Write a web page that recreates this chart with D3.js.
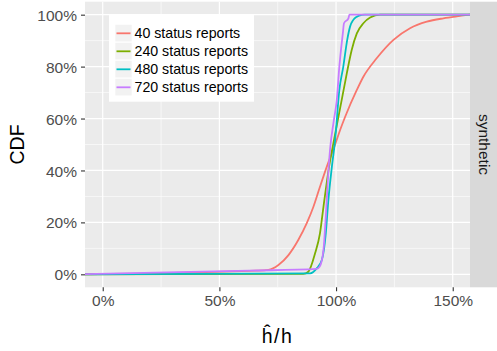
<!DOCTYPE html>
<html>
<head>
<meta charset="utf-8">
<script src="https://cdn.jsdelivr.net/npm/d3@7"></script>
<style>
  body { margin: 0; background: #fff; }
  text { font-family: "Liberation Sans", Arial, sans-serif; }
</style>
</head>
<body>
<div id="chart"></div>
<script>
// legend labels, one per series
const seriesLabels = ["40 status reports", "240 status reports", "480 status reports", "720 status reports"];
const seriesColors = ["#F8766D", "#7CAE00", "#00BFC4", "#C77CFF"];

// h-hat / h ratio vs CDF
const ratio40 = [-0.1, 0.66, 0.710, 0.753, 0.796, 0.838, 0.874, 0.903, 0.931, 0.960, 0.996, 1.017, 1.039, 1.089, 1.117, 1.174, 1.246, 1.317, 1.389, 1.460, 1.532, 1.574, 1.6];
const cdf40   = [0.0, 0.014, 0.017, 0.036, 0.074, 0.132, 0.196, 0.260, 0.337, 0.414, 0.500, 0.555, 0.607, 0.710, 0.761, 0.832, 0.903, 0.948, 0.973, 0.986, 0.995, 1.0, 1.0];

const ratio240 = [-0.1, 0.860, 0.881, 0.910, 0.931, 0.946, 0.970, 0.991, 1.024, 1.046, 1.067, 1.089, 1.117, 1.146, 1.189, 1.6];
const cdf240   = [0.0, 0.002, 0.010, 0.081, 0.158, 0.260, 0.414, 0.517, 0.671, 0.774, 0.864, 0.928, 0.967, 0.989, 1.0, 1.0];

const ratio480 = [-0.1, 0.889, 0.917, 0.939, 0.956, 0.967, 0.982, 0.996, 1.014, 1.031, 1.048, 1.060, 1.074, 1.089, 1.110, 1.124, 1.6];
const cdf480   = [0.0, 0.004, 0.023, 0.055, 0.158, 0.286, 0.414, 0.517, 0.710, 0.800, 0.904, 0.954, 0.980, 0.992, 0.999, 1.0, 1.0];

const ratio720 = [-0.1, 0.63, 0.917, 0.930, 0.946, 0.956, 0.964, 0.974, 0.990, 1.003, 1.014, 1.029, 1.034, 1.053, 1.057, 1.6];
const cdf720   = [0.0, 0.014, 0.021, 0.030, 0.094, 0.222, 0.350, 0.479, 0.590, 0.671, 0.800, 0.928, 0.967, 0.986, 1.0, 1.0];

const xTicks = [0, 0.5, 1, 1.5];
const xMinor = [0.25, 0.75, 1.25];
const yTicks = [0, 0.2, 0.4, 0.6, 0.8, 1];
const yMinor = [0.1, 0.3, 0.5, 0.7, 0.9];
const stripLabel = "synthetic";

const width = 497, height = 351;
const panel = {left: 85, right: 470, top: 1.7, bottom: 287.3};

const svg = d3.select("#chart").append("svg")
  .attr("width", width)
  .attr("height", height);

const x = d3.scaleLinear().domain([-0.076, 1.574]).range([panel.left, panel.right]);
const y = d3.scaleLinear().domain([-0.05, 1.05]).range([panel.bottom, panel.top]);

// panel background
svg.append("rect")
  .attr("x", panel.left).attr("y", panel.top)
  .attr("width", panel.right - panel.left)
  .attr("height", panel.bottom - panel.top)
  .attr("fill", "#EBEBEB");

// grid
const grid = svg.append("g");
grid.selectAll(".ymin").data(yMinor).enter().append("line")
  .attr("x1", panel.left).attr("x2", panel.right)
  .attr("y1", d => y(d)).attr("y2", d => y(d))
  .attr("stroke", "#fff").attr("stroke-width", 0.6);
grid.selectAll(".xmin").data(xMinor).enter().append("line")
  .attr("y1", panel.top).attr("y2", panel.bottom)
  .attr("x1", d => x(d)).attr("x2", d => x(d))
  .attr("stroke", "#fff").attr("stroke-width", 0.6);
grid.selectAll(".ymaj").data(yTicks).enter().append("line")
  .attr("x1", panel.left).attr("x2", panel.right)
  .attr("y1", d => y(d)).attr("y2", d => y(d))
  .attr("stroke", "#fff").attr("stroke-width", 1.2);
grid.selectAll(".xmaj").data(xTicks).enter().append("line")
  .attr("y1", panel.top).attr("y2", panel.bottom)
  .attr("x1", d => x(d)).attr("x2", d => x(d))
  .attr("stroke", "#fff").attr("stroke-width", 1.2);

// lines
svg.append("clipPath").attr("id", "clip")
  .append("rect")
  .attr("x", panel.left).attr("y", panel.top)
  .attr("width", panel.right - panel.left)
  .attr("height", panel.bottom - panel.top);

const ratios = [ratio40, ratio240, ratio480, ratio720];
const cdfs = [cdf40, cdf240, cdf480, cdf720];
const line = d3.line()
  .x(d => x(d[0]))
  .y(d => y(d[1]))
  .curve(d3.curveMonotoneX);

const lines = svg.append("g").attr("clip-path", "url(#clip)");
ratios.forEach((r, i) => {
  lines.append("path")
    .datum(r.map((v, j) => [v, cdfs[i][j]]))
    .attr("d", line)
    .attr("fill", "none")
    .attr("stroke", seriesColors[i])
    .attr("stroke-width", 1.8)
    .attr("stroke-linejoin", "round");
});

// axes
const fmt = d3.format(".0%");
const xAxis = svg.append("g")
  .attr("transform", `translate(0,${panel.bottom})`)
  .call(d3.axisBottom(x).tickValues(xTicks).tickFormat(fmt).tickSize(4).tickPadding(4));
const yAxis = svg.append("g")
  .attr("transform", `translate(${panel.left},0)`)
  .call(d3.axisLeft(y).tickValues(yTicks).tickFormat(fmt).tickSize(4).tickPadding(4));
[xAxis, yAxis].forEach(a => {
  a.select(".domain").remove();
  a.selectAll(".tick line").attr("stroke", "#333333").attr("stroke-width", 1.1);
  a.selectAll(".tick text")
    .attr("fill", "#4D4D4D")
    .style("font-size", "15.5px")
    .style("font-family", "'Liberation Sans', Arial, sans-serif");
});
yAxis.selectAll(".tick text").attr("dy", "0.36em");

// strip
svg.append("rect")
  .attr("x", panel.right).attr("y", panel.top)
  .attr("width", width - panel.right)
  .attr("height", panel.bottom - panel.top)
  .attr("fill", "#D9D9D9");
svg.append("text")
  .attr("transform", `translate(${(panel.right + width) / 2 + 0.5},${(panel.top + panel.bottom) / 2}) rotate(90)`)
  .attr("text-anchor", "middle")
  .attr("dy", "0.35em")
  .attr("fill", "#1A1A1A")
  .style("font-size", "15.5px")
  .text(stripLabel);

// axis titles
svg.append("text")
  .attr("transform", `translate(24,${(panel.top + panel.bottom) / 2}) rotate(-90)`)
  .attr("text-anchor", "middle")
  .attr("fill", "#000")
  .style("font-size", "19.5px")
  .text("CDF");

svg.append("text")
  .attr("x", (panel.left + panel.right) / 2)
  .attr("y", 343.3)
  .attr("text-anchor", "middle")
  .attr("fill", "#000")
  .style("font-size", "19.5px")
  .style("letter-spacing", "1.5px")
  .text("\u0125/h");

// legend
const legend = svg.append("g");
legend.append("rect")
  .attr("x", 109).attr("y", 14.7)
  .attr("width", 145).attr("height", 87)
  .attr("fill", "#fff");
const rows = legend.selectAll(".row").data(seriesLabels).enter().append("g")
  .attr("transform", (d, i) => `translate(115,${24.5 + i * 18})`);
rows.append("rect")
  .attr("width", 17).attr("height", 17.3)
  .attr("fill", "#F2F2F2")
  .attr("stroke", "#fff").attr("stroke-width", 0.6);
rows.append("line")
  .attr("x1", 1.5).attr("x2", 15.5)
  .attr("y1", 8.8).attr("y2", 8.8)
  .attr("stroke", (d, i) => seriesColors[i])
  .attr("stroke-width", 1.8);
rows.append("text")
  .attr("x", 19.5).attr("y", 8.8)
  .attr("dy", "0.35em")
  .attr("fill", "#000")
  .style("font-size", "14.2px")
  .text(d => d);
</script>
</body>
</html>
